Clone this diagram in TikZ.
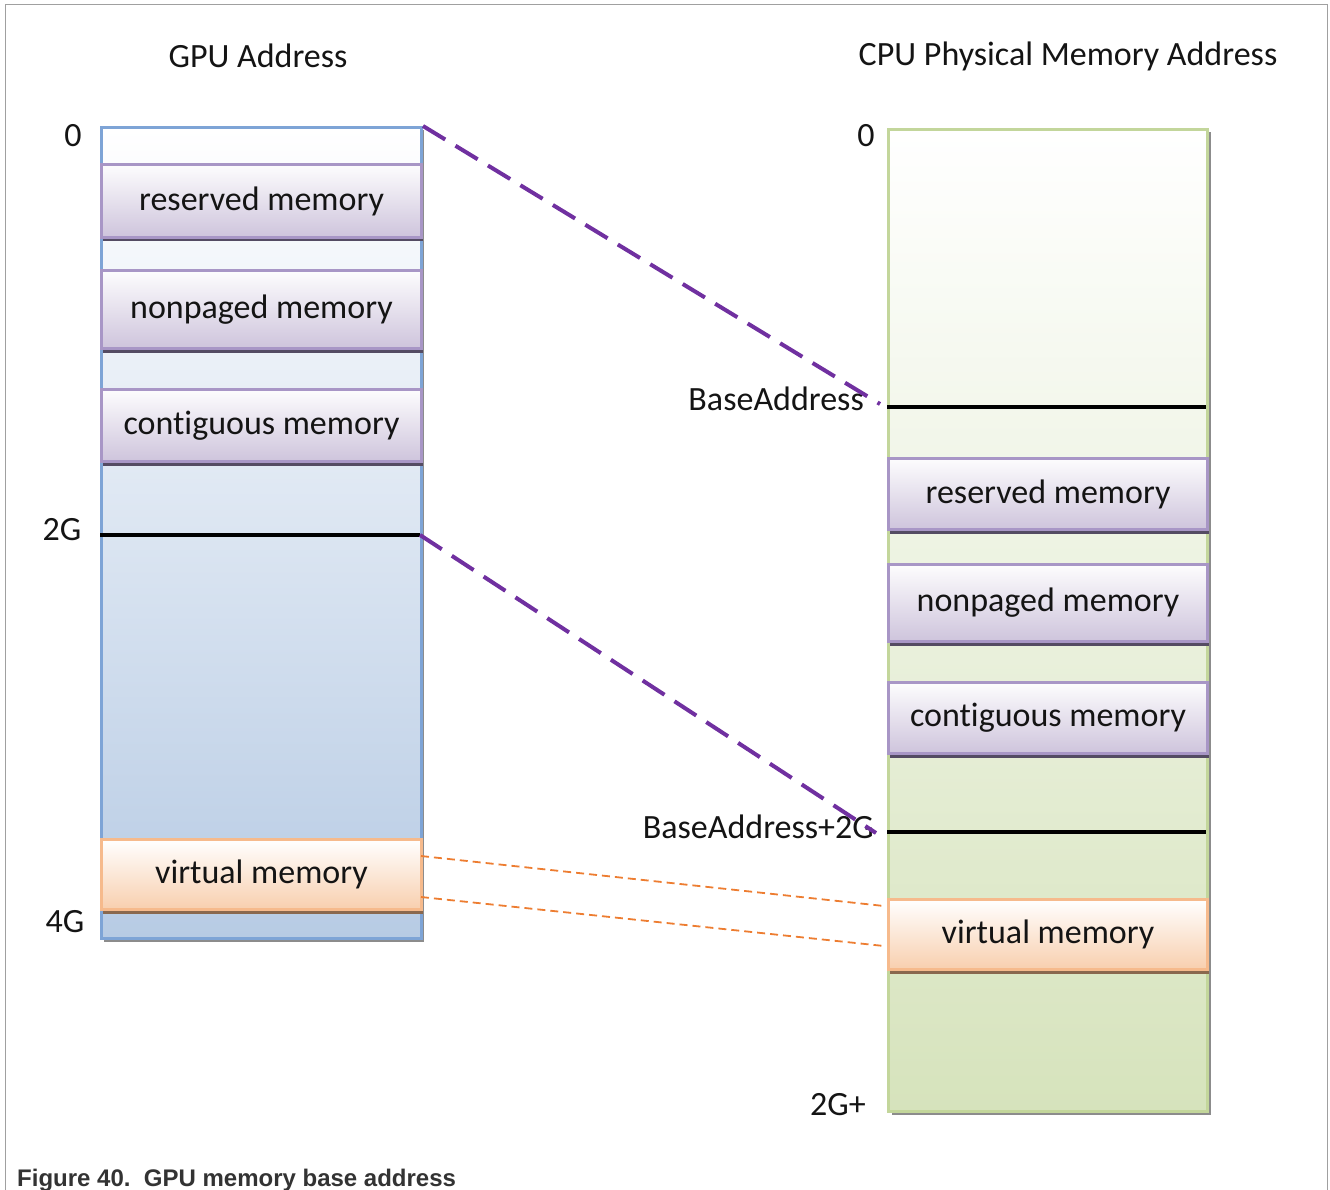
\documentclass[tikz,border=0pt]{standalone}
\usepackage{fontspec}
\setmainfont[Ligatures=NoCommon]{Carlito}
\newfontfamily\capfont{Liberation Sans}
\usetikzlibrary{shadows}
\definecolor{txt}{HTML}{141414}
\definecolor{bluebd}{HTML}{7EA4D6}
\definecolor{bluebot}{HTML}{B7CBE4}
\definecolor{greenbd}{HTML}{C3D69B}
\definecolor{greenbot}{HTML}{D6E3BC}
\definecolor{purbd}{HTML}{A896C6}
\definecolor{purbot}{HTML}{CEC4DC}
\definecolor{orbd}{HTML}{F6BA8C}
\definecolor{orbot}{HTML}{F8CFAE}
\definecolor{dashpur}{HTML}{7030A0}
\definecolor{dashor}{HTML}{ED7D31}
\definecolor{frame}{HTML}{A0A0A0}
\tikzset{
  lbl/.style={font=\fontsize{34}{38}\selectfont, text=txt, inner sep=0pt},
  column/.style={line width=3pt, anchor=north west, inner sep=0pt},
  bluecol/.style={column, draw=bluebd, top color=white, bottom color=bluebot,
     drop shadow={shadow xshift=2pt, shadow yshift=-3pt, fill=black!45, opacity=1}},
  greencol/.style={column, draw=greenbd, top color=white, bottom color=greenbot,
     drop shadow={shadow xshift=3pt, shadow yshift=-3pt, fill=black!45, opacity=1}},
  membox/.style={line width=3pt, anchor=north west, minimum width=320, inner sep=0pt,
     font=\fontsize{34}{38}\selectfont, text=txt},
  purbox/.style={membox, draw=purbd, top color=white!96!purbot, bottom color=purbot,
     drop shadow={shadow xshift=1pt, shadow yshift=-4pt, fill=black!50!purbd, opacity=1}},
  orbox/.style={membox, draw=orbd, top color=white, bottom color=orbot,
     drop shadow={shadow xshift=1pt, shadow yshift=-4pt, fill=black!30!orbd!80!black, opacity=1}},
  addrline/.style={line width=3.5pt, black},
  pdash/.style={line width=4pt, dashpur, dash pattern=on 26pt off 12pt},
  odash/.style={line width=1.8pt, dashor, dash pattern=on 8pt off 5pt},
}
\begin{document}
\begin{tikzpicture}[x=1pt, y=-1pt]
\useasboundingbox (0,0) rectangle (1330,1190);
% frame
\draw[frame, line width=1pt] (5,1190) -- (5,5) -- (1327,5) -- (1327,1190);

% titles
\node[lbl] (tg) at (258,56) {GPU Address};
\node[lbl] (tc) at (1068,56) {CPU Physical Memory Address};

% GPU column
\node[bluecol, minimum width=320, minimum height=811] (gpu) at (100,126) {};
\node[purbox, minimum height=73] (g1) at (100,163) {reserved memory};
\node[purbox, minimum height=78] (g2) at (100,269) {nonpaged memory};
\node[purbox, minimum height=72] (g3) at (100,388) {contiguous memory};
\node[orbox, minimum height=70] (gv) at (100,838) {virtual memory};
\coordinate (g2Ga) at (100,535);
\coordinate (g2Gb) at (420,535);
\draw[addrline] (g2Ga) -- (g2Gb);

\node[lbl] (l0) at (73,136) {0};
\node[lbl] (l2G) at (62,530) {2G};
\node[lbl] (l4G) at (65,922) {4G};

% CPU column
\node[greencol, minimum width=319, minimum height=982] (cpu) at (887,128) {};
\coordinate (baa) at (887,407);
\coordinate (bab) at (1206,407);
\draw[addrline] (baa) -- (bab);
\node[purbox, minimum width=319, minimum height=71] (c1) at (887,457) {reserved memory};
\node[purbox, minimum width=319, minimum height=77] (c2) at (887,563) {nonpaged memory};
\node[purbox, minimum width=319, minimum height=71] (c3) at (887,681) {contiguous memory};
\coordinate (b2a) at (887,832);
\coordinate (b2b) at (1206,832);
\draw[addrline] (b2a) -- (b2b);
\node[orbox, minimum width=319, minimum height=70] (cv) at (887,898) {virtual memory};

\node[lbl] (r0) at (866,136) {0};
\node[lbl] (r2G) at (838,1105) {2G+};
\node[lbl, anchor=east] (lba) at (864,399) {BaseAddress};
\node[lbl, anchor=east] (lba2) at (874,827) {BaseAddress+2G};

% connectors
\coordinate (pend1) at (880,404);
\coordinate (pend2) at (876,833);
\draw[pdash] (gpu.north east) -- (pend1);
\draw[pdash] (g2Gb) -- (pend2);

\coordinate (os1) at (421,856);
\coordinate (os2) at (421,897);
\coordinate (oe1) at (884,906);
\coordinate (oe2) at (884,946);
\draw[odash] (os1) -- (oe1);
\draw[odash] (os2) -- (oe2);

% caption
\node[anchor=base west, inner sep=0pt, font=\capfont\bfseries\fontsize{24}{27}\selectfont, text=black!80] (cap) at (17,1186) {Figure 40.\ \ GPU memory base address};
\end{tikzpicture}
\end{document}
